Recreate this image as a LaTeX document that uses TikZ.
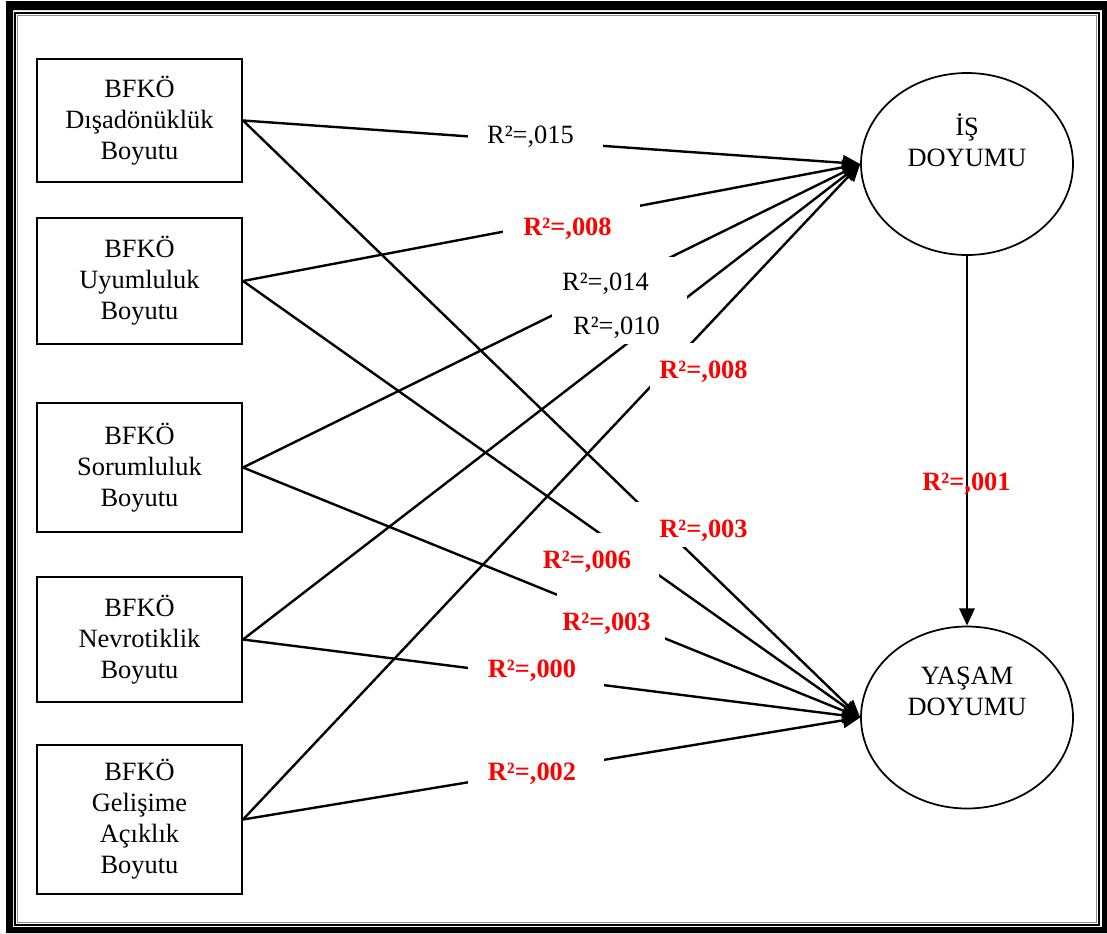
\documentclass[tikz,border=0pt]{standalone}
\usepackage{fontspec}
\setmainfont{Liberation Serif}
\usetikzlibrary{arrows.meta,shapes.geometric}
\begin{document}
\begin{tikzpicture}[x=0.75pt,y=-0.75pt,
  txt/.style={font=\fontsize{19.8pt}{23.25pt}\selectfont},
  dim/.style={draw, line width=1.5pt, minimum width=153.75pt, inner sep=0pt, align=center, txt},
  oval/.style={draw, ellipse, line width=1.3pt, minimum width=159pt, minimum height=136.5pt, inner sep=0pt},
  link/.style={line width=1.8pt, -{Triangle[length=13pt,width=11.5pt]}},
  veil/.style={fill=white, inner sep=0pt},
  coef/.style={txt, anchor=base, inner sep=0pt},
  sig/.style={coef, text=red, font=\fontsize{19.8pt}{23.25pt}\selectfont\bfseries}]
\useasboundingbox (0,0) rectangle (1107,933);

% page frame: thick outer band, thin inner rule, grey shadow rule
\fill[black, even odd rule] (6,1) rectangle (1107,933) (13,10) rectangle (1102,927);
\draw[line width=1.5pt] (15,13) rectangle (1098.5,925);
\draw[line width=0.75pt, black!45] (17.5,15.5) rectangle (1096.5,922.5);

% personality dimensions
\node[dim, minimum height=92.25pt]  (b1) at (139.5,120.5) {BFKÖ\\Dışadönüklük\\Boyutu};
\node[dim, minimum height=94.5pt]   (b2) at (139.5,281)   {BFKÖ\\Uyumluluk\\Boyutu};
\node[dim, minimum height=96.75pt]  (b3) at (139.5,467.5) {BFKÖ\\Sorumluluk\\Boyutu};
\node[dim, minimum height=93.75pt]  (b4) at (139.5,639.5) {BFKÖ\\Nevrotiklik\\Boyutu};
\node[dim, minimum height=111.75pt] (b5) at (139.5,819.5) {BFKÖ\\Gelişime\\Açıklık\\Boyutu};

% outcome variables
\node[oval] (is) at (967,164) {};
\node[oval] (ys) at (967,717.5) {};
\node[txt, anchor=base, inner sep=0pt] (istx) at (967,135)
  {\begin{tabular}[t]{@{}c@{}}İŞ\\DOYUMU\end{tabular}};
\node[txt, anchor=base, inner sep=0pt] (ystx) at (967,684)
  {\begin{tabular}[t]{@{}c@{}}YAŞAM\\DOYUMU\end{tabular}};

% paths
\draw[link] (b1.east) -- (is.west);
\draw[link] (b1.east) -- (ys.west);
\draw[link] (b2.east) -- (is.west);
\draw[link] (b2.east) -- (ys.west);
\draw[link] (b3.east) -- (is.west);
\draw[link] (b3.east) -- (ys.west);
\draw[link] (b4.east) -- (is.west);
\draw[link] (b4.east) -- (ys.west);
\draw[link] (b5.east) -- (is.west);
\draw[link] (b5.east) -- (ys.west);
\draw[link] (is.south) -- (ys.north);

% white text-box backgrounds behind the coefficients
\node[veil, minimum width=101.25pt, minimum height=21.75pt] (v1)  at (535.5,135.5) {};
\node[veil, minimum width=102.75pt, minimum height=28.5pt]  (v2)  at (571.5,223)   {};
\node[veil, minimum width=101.25pt, minimum height=45.75pt] (v3)  at (619.5,287.5) {};
\node[veil, minimum width=93.75pt,  minimum height=29.25pt] (v4)  at (622.5,324.5) {};
\node[veil, minimum width=90pt,     minimum height=35.25pt] (v5)  at (710,366.5)   {};
\node[veil, minimum width=101.25pt, minimum height=33.75pt] (v6)  at (702.5,524.5) {};
\node[veil, minimum width=100.5pt,  minimum height=33.75pt] (v7)  at (592,555.5)   {};
\node[veil, minimum width=81pt,     minimum height=36.75pt] (v8)  at (611,617.5)   {};
\node[veil, minimum width=102pt,    minimum height=28.5pt]  (v9)  at (536,671)     {};
\node[veil, minimum width=102pt,    minimum height=27pt]    (v10) at (536,770)     {};

% coefficients
\node[coef] (r1)  at (530.5,143) {R²=,015};
\node[sig]  (r2)  at (567.5,235) {R²=,008};
\node[coef] (r3)  at (605.5,290) {R²=,014};
\node[coef] (r4)  at (616.5,334) {R²=,010};
\node[sig]  (r5)  at (703.5,378) {R²=,008};
\node[sig]  (r6)  at (703.5,537) {R²=,003};
\node[sig]  (r7)  at (587,568)   {R²=,006};
\node[sig]  (r8)  at (606.5,630) {R²=,003};
\node[sig]  (r9)  at (532,677)   {R²=,000};
\node[sig]  (r10) at (532,780)   {R²=,002};
\node[sig]  (r11) at (966.5,490) {R²=,001};
\end{tikzpicture}
\end{document}
